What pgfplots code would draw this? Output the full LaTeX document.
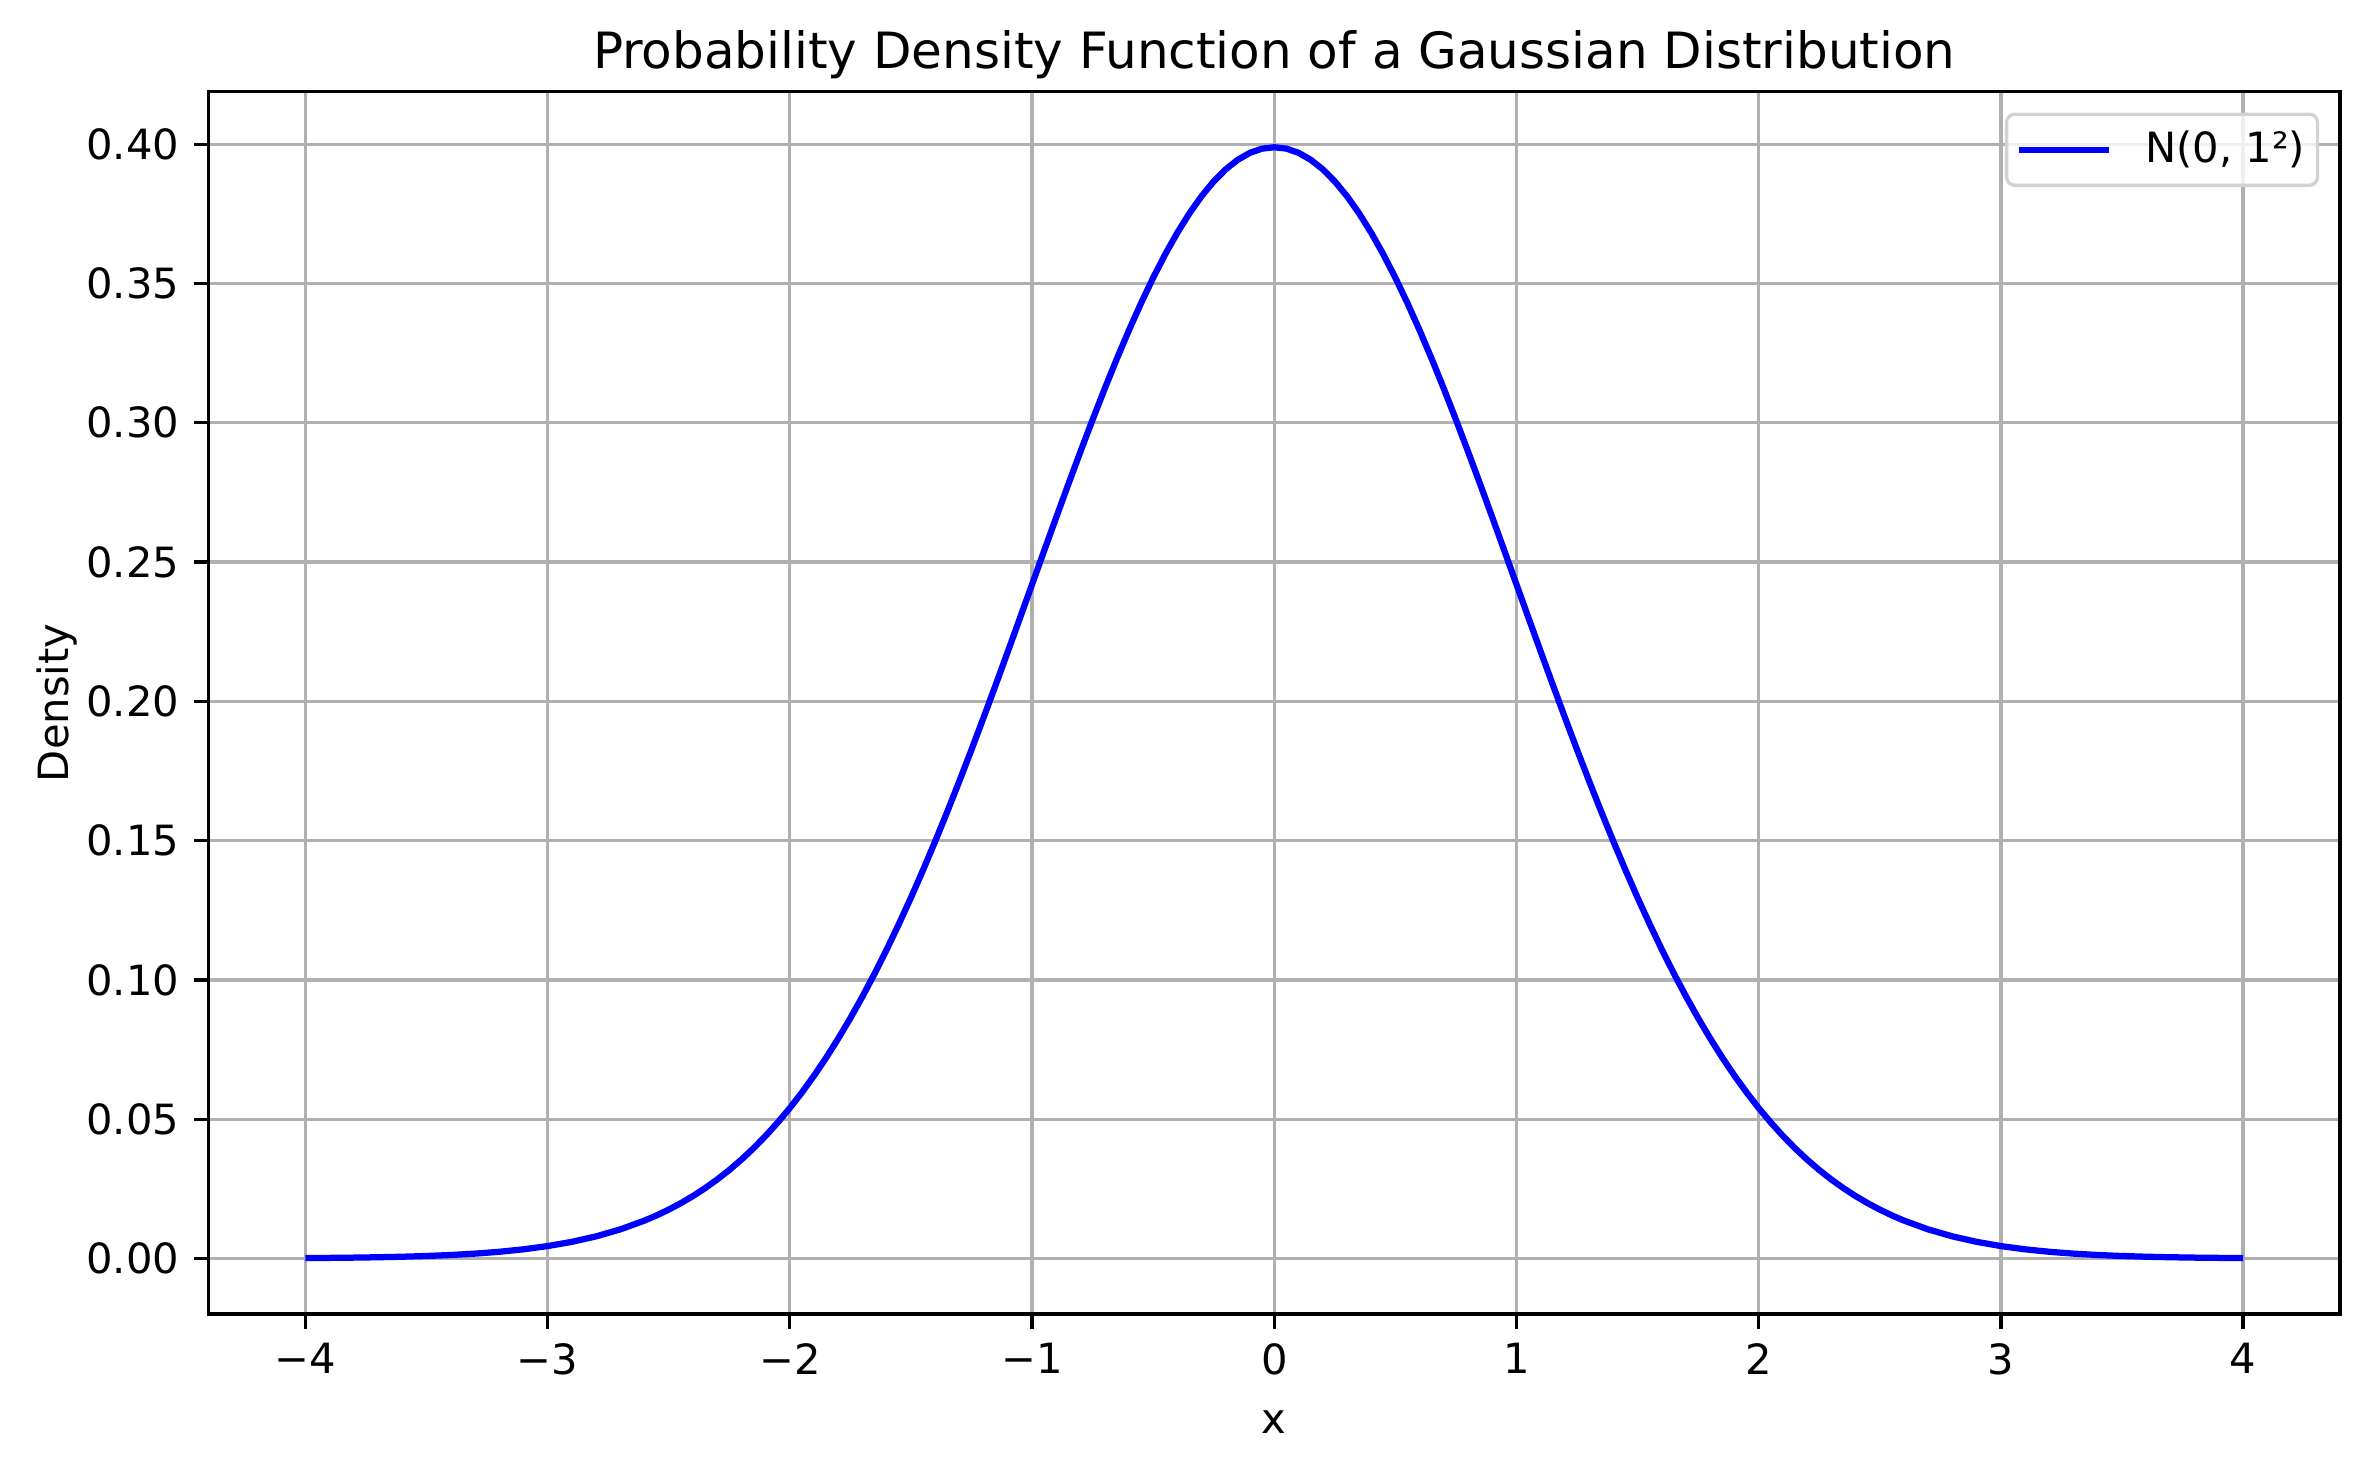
\documentclass[border=0pt]{standalone}
\usepackage{pgfplots}
\pgfplotsset{compat=1.18}
\usepackage{fontspec}
\setmainfont{DejaVu Sans}
\definecolor{gridgray}{HTML}{B0B0B0}
\definecolor{mplblue}{HTML}{0000FF}
\begin{document}
\begin{tikzpicture}
\useasboundingbox (0,0) rectangle (568.8pt,352.8pt);
\begin{axis}[
  at={(50.04pt,37.44pt)}, anchor=south west,
  scale only axis, width=511.56pt, height=293.35pt,
  xmin=-4.4, xmax=4.4, ymin=-0.01995, ymax=0.41889,
  xtick={-4,-3,-2,-1,0,1,2,3,4},
  xticklabels={−4,−3,−2,−1,0,1,2,3,4},
  ytick={0,0.05,0.1,0.15,0.2,0.25,0.3,0.35,0.4},
  yticklabel style={/pgf/number format/.cd, fixed, fixed zerofill, precision=2},
  /pgf/number format/assume math mode=true,
  tick label style={font=\fontsize{10}{12}\selectfont},
  label style={font=\fontsize{10}{12}\selectfont},
  xlabel style={yshift=-1.8pt},
  ylabel style={yshift=-4.7pt},
  tick align=outside, major tick length=3.5pt,
  every tick/.style={black, line width=0.8pt},
  xtick pos=bottom, ytick pos=left,
  axis line style={line width=0.8pt},
  grid=major, major grid style={gridgray, line width=0.8pt},
  xlabel={x}, ylabel={Density},
  title={Probability Density Function of a Gaussian Distribution},
  every axis title/.style={font=\fontsize{12}{14}\selectfont, at={(0.5,1)}, anchor=base, yshift=5.6pt},
  legend style={at={(1,1)}, anchor=north east, xshift=-5pt, yshift=-5pt,
    draw=gray!35, line width=0.8pt, rounded corners=2pt, fill=white, fill opacity=0.8, text opacity=1,
    font=\fontsize{10}{12}\selectfont, inner xsep=3pt, inner ysep=2pt,
    nodes={inner xsep=0pt, inner ysep=2pt}},
  legend cell align=left,
  legend image code/.code={\draw[#1, line cap=rect] (0.75pt,0pt) -- (20.75pt,0pt); \path (29.5pt,0pt);},
]
\addplot[mplblue, line width=1.5pt, no markers] coordinates {
(-4.0,0.000134)(-3.9,0.000199)(-3.8,0.000292)(-3.7,0.000425)(-3.6,0.000612)
(-3.5,0.000873)(-3.4,0.001232)(-3.3,0.001723)(-3.2,0.002384)(-3.1,0.003267)
(-3.0,0.004432)(-2.9,0.005953)(-2.8,0.007915)(-2.7,0.010421)(-2.6,0.013583)
(-2.55,0.015449)(-2.5,0.017528)(-2.45,0.019837)(-2.4,0.022395)(-2.35,0.025218)
(-2.3,0.028327)(-2.25,0.031739)(-2.2,0.035475)(-2.15,0.039550)(-2.1,0.043984)
(-2.05,0.048793)(-2.0,0.053991)(-1.95,0.059595)(-1.9,0.065616)(-1.85,0.072064)
(-1.8,0.078950)(-1.75,0.086277)(-1.7,0.094049)(-1.65,0.102265)(-1.6,0.110921)
(-1.55,0.120009)(-1.5,0.129518)(-1.45,0.139431)(-1.4,0.149727)(-1.35,0.160384)
(-1.3,0.171369)(-1.25,0.182649)(-1.2,0.194186)(-1.15,0.205936)(-1.1,0.217852)
(-1.05,0.229881)(-1.0,0.241971)(-0.95,0.254059)(-0.9,0.266085)(-0.85,0.277985)
(-0.8,0.289692)(-0.75,0.301137)(-0.7,0.312254)(-0.65,0.322972)(-0.6,0.333225)
(-0.55,0.342944)(-0.5,0.352065)(-0.45,0.360527)(-0.4,0.368270)(-0.35,0.375240)
(-0.3,0.381388)(-0.25,0.386668)(-0.2,0.391043)(-0.15,0.394479)(-0.1,0.396953)
(-0.05,0.398444)(0.0,0.398942)
(0.05,0.398444)(0.1,0.396953)(0.15,0.394479)(0.2,0.391043)(0.25,0.386668)
(0.3,0.381388)(0.35,0.375240)(0.4,0.368270)(0.45,0.360527)(0.5,0.352065)
(0.55,0.342944)(0.6,0.333225)(0.65,0.322972)(0.7,0.312254)(0.75,0.301137)
(0.8,0.289692)(0.85,0.277985)(0.9,0.266085)(0.95,0.254059)(1.0,0.241971)
(1.05,0.229881)(1.1,0.217852)(1.15,0.205936)(1.2,0.194186)(1.25,0.182649)
(1.3,0.171369)(1.35,0.160384)(1.4,0.149727)(1.45,0.139431)(1.5,0.129518)
(1.55,0.120009)(1.6,0.110921)(1.65,0.102265)(1.7,0.094049)(1.75,0.086277)
(1.8,0.078950)(1.85,0.072064)(1.9,0.065616)(1.95,0.059595)(2.0,0.053991)
(2.05,0.048793)(2.1,0.043984)(2.15,0.039550)(2.2,0.035475)(2.25,0.031739)
(2.3,0.028327)(2.35,0.025218)(2.4,0.022395)(2.45,0.019837)(2.5,0.017528)
(2.55,0.015449)(2.6,0.013583)(2.7,0.010421)(2.8,0.007915)(2.9,0.005953)
(3.0,0.004432)(3.1,0.003267)(3.2,0.002384)(3.3,0.001723)(3.4,0.001232)
(3.5,0.000873)(3.6,0.000612)(3.7,0.000425)(3.8,0.000292)(3.9,0.000199)
(4.0,0.000134)
};
\addlegendentry{N(0, 1²)}
\end{axis}
\end{tikzpicture}
\end{document}
